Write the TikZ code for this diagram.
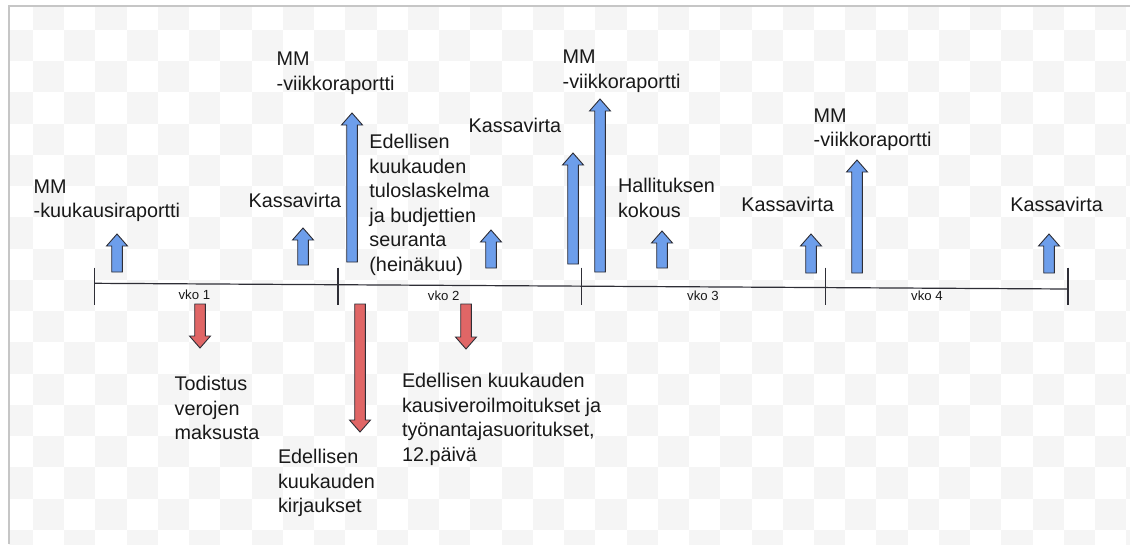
\documentclass[tikz,border=0pt]{standalone}
\usepackage{fontspec}
\setmainfont{Liberation Sans}
\definecolor{sininen}{HTML}{6D9EEB}
\definecolor{punainen}{HTML}{E06666}
\definecolor{reuna}{HTML}{2E2E36}
\definecolor{ruutu}{HTML}{F5F5F5}
\definecolor{kehys}{HTML}{C6C6C6}
% block arrows: x, tip, tail  /  x, top, tip
\newcommand{\ylos}[3]{\draw[nuoli,fill=sininen] (#1-5.3,#3) -- (#1-5.3,#2+12) -- (#1-10.5,#2+12) -- (#1,#2) -- (#1+10.5,#2+12) -- (#1+5.3,#2+12) -- (#1+5.3,#3) -- cycle;}
\newcommand{\alas}[3]{\draw[nuoli,fill=punainen] (#1-5.3,#2) -- (#1-5.3,#3-12) -- (#1-10.5,#3-12) -- (#1,#3) -- (#1+10.5,#3-12) -- (#1+5.3,#3-12) -- (#1+5.3,#2) -- cycle;}

\begin{document}
\begin{tikzpicture}[x=1pt,y=-1pt,
  nuoli/.style={draw=reuna,line width=0.9pt},
  teksti/.style={anchor=north west,inner sep=0pt,align=left,text=black!90,font=\fontsize{19.8}{24.5}\selectfont},
  vko/.style={anchor=base,inner sep=0pt,text=black!90,font=\fontsize{13.2}{15}\selectfont}]
  \useasboundingbox (0,0) rectangle (1130,544);
  \fill[white] (0,0) rectangle (1130,544);
  \begin{scope}
    \clip (9,6) rectangle (1130,544);
    \foreach \i in {0,...,36}{\foreach \j in {0,...,17}{%
      \ifodd\numexpr\i+\j\relax \fill[ruutu] (1.76+31.24*\i,-1.24+31.24*\j) rectangle ++(31.24,31.24);\fi}}
  \end{scope}
  \draw[kehys,line width=1.8pt] (9,544) -- (9,6) -- (1130,6);

  % timeline
  \coordinate (alku) at (94.3,283.3);
  \coordinate (loppu) at (1068,289);
  \draw[reuna,line width=1.2pt] (alku) -- (loppu);
  \draw[reuna,line width=1.2pt] (94.3,267.5) -- (94.3,304.5);
  \draw[reuna,line width=1.2pt] (338,267.5) -- (338,304.5);
  \draw[reuna,line width=1.2pt] (581.7,267.5) -- (581.7,304.5);
  \draw[reuna,line width=1.2pt] (825.7,267.5) -- (825.7,304.5);
  \draw[reuna,line width=1.2pt] (1068,267.5) -- (1068,304.5);
  \node[vko] (vko1) at (194.4,299.5) {vko 1};
  \node[vko] (vko2) at (443.7,300) {vko 2};
  \node[vko] (vko3) at (703,300) {vko 3};
  \node[vko] (vko4) at (927,300) {vko 4};

  % up
  \ylos{117}{234}{272}
  \ylos{303}{228}{265}
  \ylos{352}{113}{262}
  \ylos{491}{230}{268}
  \ylos{573}{153}{264}
  \ylos{600}{99}{272}
  \ylos{662}{231}{268}
  \ylos{811}{234}{273}
  \ylos{857}{160}{273}
  \ylos{1049}{234}{273}
  % down
  \alas{200}{304}{348}
  \alas{360}{304}{432}
  \alas{466}{304}{349}

  \node[teksti] (mmkk) at (33.5,179.3) {MM\\-kuukausiraportti};
  \node[teksti] (kassa1) at (248.5,193) {Kassavirta};
  \node[teksti] (mmvk1) at (276.5,51.7) {MM\\-viikkoraportti};
  \node[teksti] (tulos) at (369.2,134.3) {Edellisen\\kuukauden\\tuloslaskelma\\ja budjettien\\seuranta\\(heinäkuu)};
  \node[teksti] (kassa2) at (468.5,117.7) {Kassavirta};
  \node[teksti] (mmvk2) at (562.5,50) {MM\\-viikkoraportti};
  \node[teksti] (hallitus) at (617.8,178.3) {Hallituksen\\kokous};
  \node[teksti] (kassa3) at (741.2,197) {Kassavirta};
  \node[teksti] (mmvk3) at (813.5,108.3) {MM\\-viikkoraportti};
  \node[teksti] (kassa4) at (1010.2,197) {Kassavirta};
  \node[teksti] (todistus) at (174.5,376) {Todistus\\verojen\\maksusta};
  \node[teksti] (kirjaukset) at (277.8,449.3) {Edellisen\\kuukauden\\kirjaukset};
  \node[teksti] (kausivero) at (401.8,373.3) {Edellisen kuukauden\\kausiveroilmoitukset ja\\työnantajasuoritukset,\\12.päivä};
\end{tikzpicture}
\end{document}
